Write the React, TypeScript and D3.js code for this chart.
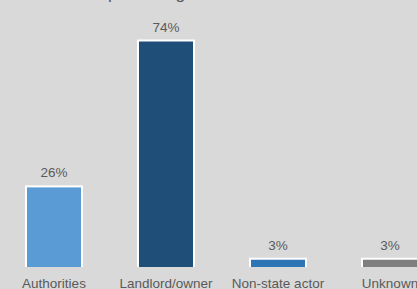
import React from "react";
import * as d3 from "d3";

const categories = ["Authorities", "Landlord/owner", "Non-state actor", "Unknown"];
const values = [26.4, 73.6, 3.0, 3.0];
const valueLabels = ["26%", "74%", "3%", "3%"];
const colors = ["#5b9bd5", "#1f4e79", "#2e75b6", "#7f7f7f"];
const titleText = "percentage";

const W = 417;
const H = 289;
const BASE = 267;
const FONT = "'Liberation Sans', Arial, sans-serif";

export default function App() {
  const x = d3
    .scaleBand<string>()
    .domain(categories)
    .range([-2, 446])
    .paddingInner(0.482)
    .paddingOuter(0.241);
  const y = d3.scaleLinear().domain([0, 73.6]).range([BASE, 39.5]);
  const bw = x.bandwidth();

  return (
    <svg
      width={W}
      height={H}
      style={{ position: "absolute", left: 0, top: 0, background: "#d9d9d9" }}
      fontFamily={FONT}
    >
      <defs>
        <clipPath id="plotClip">
          <rect x={0} y={0} width={W} height={BASE} />
        </clipPath>
      </defs>
      <rect x={0} y={0} width={W} height={H} fill="#d9d9d9" />
      <text x={108} y={-1} fontSize={17.33} fill="#595959">
        {titleText}
      </text>
      <g clipPath="url(#plotClip)">
        {categories.map((c, i) => (
          <rect
            key={c}
            x={(x(c) ?? 0) + 1}
            y={y(values[i]) + 1}
            width={bw - 2}
            height={BASE - y(values[i]) + 2}
            fill={colors[i]}
            stroke="#ffffff"
            strokeWidth={2}
          />
        ))}
      </g>
      {categories.map((c, i) => (
        <text
          key={"v" + c}
          x={(x(c) ?? 0) + bw / 2}
          y={y(values[i]) - 8}
          textAnchor="middle"
          fontSize={13.5}
          fill="#595959"
        >
          {valueLabels[i]}
        </text>
      ))}
      {categories.map((c) => (
        <text
          key={"c" + c}
          x={(x(c) ?? 0) + bw / 2}
          y={288.3}
          textAnchor="middle"
          fontSize={13.5}
          fill="#595959"
        >
          {c}
        </text>
      ))}
    </svg>
  );
}
